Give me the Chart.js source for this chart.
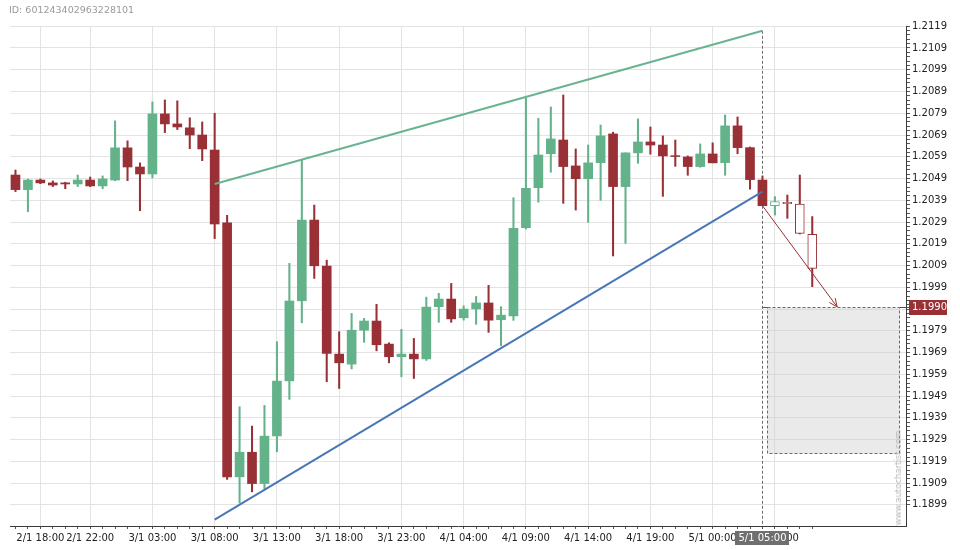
<!DOCTYPE html>
<html>
<head>
<meta charset="utf-8">
<script src="https://cdn.jsdelivr.net/npm/chart.js@4.4.1/dist/chart.umd.min.js"></script>
<style>
  html, body { margin: 0; padding: 0; background: #ffffff; }
  #wrap { position: relative; width: 960px; height: 550px; }
  #chartId { position: absolute; left: 9px; top: 4px; font: 9.5px "DejaVu Sans", sans-serif; color: #9a9a9a; }
  #mark { position: absolute; left: 898px; top: 478px; transform: translate(-50%, -50%) rotate(-90deg);
          font: 8.5px "DejaVu Sans", sans-serif; color: #b8b8b8; white-space: nowrap; }
</style>
</head>
<body>
<div id="wrap">
  <canvas id="c" width="960" height="550"></canvas>
  <div id="chartId">ID: 601243402963228101</div>
  <div id="mark">www.autochartist.com</div>
</div>
<script>
// ---- data (hourly candles, index 0 = 2/1 16:00) ----
const openV = [
1.20506, 1.20439, 1.20483, 1.20470, 1.20470, 1.20465, 1.20483, 1.20456, 1.20483, 1.20631,
1.20543, 1.20511, 1.20787, 1.20741, 1.20723, 1.20690, 1.20621, 1.20286, 1.19119, 1.19232,
1.19088, 1.19307, 1.19560, 1.19928, 1.20299, 1.20088, 1.19683, 1.19637, 1.19793, 1.19835,
1.19729, 1.19671, 1.19683, 1.19661, 1.19901, 1.19936, 1.19850, 1.19891, 1.19918, 1.19841,
1.19859, 1.20264, 1.20448, 1.20604, 1.20667, 1.20548, 1.20489, 1.20563, 1.20695, 1.20453,
1.20608, 1.20658, 1.20644, 1.20595, 1.20589, 1.20545, 1.20603, 1.20563, 1.20732, 1.20632,
1.20483, 1.20365, 1.20381, 1.20372, 1.20234];
const highV = [
1.20529, 1.20488, 1.20488, 1.20479, 1.20473, 1.20506, 1.20497, 1.20502, 1.20755, 1.20663,
1.20562, 1.20842, 1.20851, 1.20847, 1.20769, 1.20750, 1.20790, 1.20321, 1.19441, 1.19352,
1.19447, 1.19740, 1.20100, 1.20575, 1.20368, 1.20115, 1.19786, 1.19870, 1.19847, 1.19912,
1.19735, 1.19797, 1.19755, 1.19945, 1.19962, 1.20008, 1.19905, 1.19948, 1.19999, 1.19901,
1.20402, 1.20862, 1.20767, 1.20819, 1.20874, 1.20626, 1.20644, 1.20736, 1.20703, 1.20608,
1.20764, 1.20727, 1.20686, 1.20667, 1.20594, 1.20649, 1.20654, 1.20782, 1.20773, 1.20635,
1.20502, 1.20407, 1.20414, 1.20506, 1.20315];
const lowV = [
1.20430, 1.20338, 1.20466, 1.20453, 1.20443, 1.20453, 1.20453, 1.20443, 1.20480, 1.20480,
1.20342, 1.20493, 1.20701, 1.20715, 1.20627, 1.20572, 1.20214, 1.19107, 1.18999, 1.19050,
1.19065, 1.19234, 1.19475, 1.19827, 1.20031, 1.19556, 1.19525, 1.19615, 1.19737, 1.19698,
1.19643, 1.19579, 1.19571, 1.19654, 1.19829, 1.19829, 1.19839, 1.19820, 1.19783, 1.19721,
1.19838, 1.20258, 1.20381, 1.20519, 1.20376, 1.20345, 1.20289, 1.20390, 1.20134, 1.20192,
1.20560, 1.20602, 1.20408, 1.20546, 1.20505, 1.20542, 1.20562, 1.20505, 1.20604, 1.20441,
1.20365, 1.20322, 1.20307, 1.20235, 1.19993];
const closeV = [
1.20439, 1.20483, 1.20470, 1.20460, 1.20465, 1.20483, 1.20456, 1.20488, 1.20631, 1.20543,
1.20511, 1.20787, 1.20741, 1.20727, 1.20690, 1.20626, 1.20281, 1.19119, 1.19232, 1.19088,
1.19306, 1.19559, 1.19927, 1.20299, 1.20089, 1.19686, 1.19643, 1.19793, 1.19835, 1.19726,
1.19671, 1.19683, 1.19661, 1.19899, 1.19936, 1.19845, 1.19890, 1.19918, 1.19839, 1.19862,
1.20261, 1.20445, 1.20598, 1.20672, 1.20545, 1.20489, 1.20562, 1.20686, 1.20453, 1.20608,
1.20658, 1.20644, 1.20594, 1.20591, 1.20545, 1.20603, 1.20562, 1.20732, 1.20632, 1.20485,
1.20365, 1.20384, 1.20374, 1.20238, 1.20077];
const forecastFrom = 61;           // candles from this index on are projected (hollow)

// pattern lines [index, price]
const resistanceLine = [[16, 1.20465], [60, 1.21169]];
const supportLine    = [[16, 1.18922], [60, 1.20430]];
const forecastArrow  = [[60, 1.20365], [66, 1.19900]];
const targetLevel = 1.1990;
const targetLabel = '1.1990';
const zone = { start: 60.4, end: 71.0, top: 1.19900, bottom: 1.19228 };
const patternEndIndex = 60;
const patternEndLabel = '5/1 05:00';

// axis tick labels
const xTickIndex = [2, 6, 11, 16, 21, 26, 31, 36, 41, 46, 51, 56, 61];
const xTickText = ['2/1 18:00','2/1 22:00','3/1 03:00','3/1 08:00','3/1 13:00','3/1 18:00',
                   '3/1 23:00','4/1 04:00','4/1 09:00','4/1 14:00','4/1 19:00','5/1 00:00','5/1 05:00'];
const yTickValues = [1.1899,1.1909,1.1919,1.1929,1.1939,1.1949,1.1959,1.1969,1.1979,1.1989,1.1999,
                     1.2009,1.2019,1.2029,1.2039,1.2049,1.2059,1.2069,1.2079,1.2089,1.2099,1.2109,1.2119];
const yTickLabels = yTickValues.map(v => v.toFixed(4));

// ---- styles ----
const GREEN = '#63b28a', RED = '#993035', LINE_GREEN = '#6ab391', BLUE = '#4a77b4';
const GRID = '#e3e3e3', AXIS = '#3a3a3a', TEXT = '#222222';
const FONT = 'DejaVu Sans';

const n = openV.length;
const bodies = [], wicks = [], fill = [], edge = [], bw = [];
for (let i = 0; i < n; i++) {
  const up = closeV[i] >= openV[i];
  const col = up ? GREEN : RED;
  bodies.push({ x: i, y: [Math.min(openV[i], closeV[i]), Math.max(openV[i], closeV[i])] });
  wicks.push({ x: i, y: [lowV[i], highV[i]] });
  const hollow = i >= forecastFrom;
  fill.push(hollow ? '#ffffff' : col);
  edge.push(col);
  bw.push(hollow ? 1 : 0);
}
const wickCol = edge.slice();
const toPts = arr => arr.map(p => ({ x: p[0], y: p[1] }));

const isLabeledX = v => xTickIndex.indexOf(Math.round(v)) >= 0 && Math.abs(v - Math.round(v)) < 1e-6;
const yLabelFor = v => { for (let j = 0; j < yTickValues.length; j++) if (Math.abs(v - yTickValues[j]) < 1e-7) return j; return -1; };

const overlay = {
  id: 'overlay',
  beforeDatasetsDraw(chart) {
    const { ctx, scales: { x, y }, chartArea } = chart;
    const x0 = Math.round(x.getPixelForValue(zone.start)) + 0.5;
    const x1 = Math.round(x.getPixelForValue(zone.end)) + 0.5;
    const yt = Math.round(y.getPixelForValue(zone.top)) + 0.5;
    const yb = Math.round(y.getPixelForValue(zone.bottom)) + 0.5;
    ctx.save();
    ctx.fillStyle = 'rgba(205,205,205,0.42)';
    ctx.fillRect(x0, yt, x1 - x0, yb - yt);
    ctx.setLineDash([3, 2]);
    ctx.strokeStyle = '#6a6a6a';
    ctx.lineWidth = 1;
    ctx.strokeRect(x0, yt, x1 - x0, yb - yt);
    // vertical dashed line at pattern end
    const xe = Math.round(x.getPixelForValue(patternEndIndex)) + 0.5;
    const ys = y.getPixelForValue(resistanceLine[1][1]);
    ctx.beginPath(); ctx.moveTo(xe, ys); ctx.lineTo(xe, chartArea.bottom); ctx.stroke();
    ctx.setLineDash([]);
    // target level line (red) outside the box
    ctx.strokeStyle = RED;
    ctx.beginPath();
    ctx.moveTo(xe, yt); ctx.lineTo(x0, yt);
    ctx.moveTo(x1, yt); ctx.lineTo(chartArea.right + 3, yt);
    ctx.stroke();
    ctx.restore();
  },
  afterDraw(chart) {
    const { ctx, scales: { x, y }, chartArea } = chart;
    ctx.save();
    // arrow head
    const ax = x.getPixelForValue(forecastArrow[0][0]), ay = y.getPixelForValue(forecastArrow[0][1]);
    const bx = x.getPixelForValue(forecastArrow[1][0]), by = y.getPixelForValue(forecastArrow[1][1]);
    const ang = Math.atan2(by - ay, bx - ax), L = 9, spread = 0.42;
    ctx.strokeStyle = RED; ctx.lineWidth = 1;
    ctx.beginPath();
    ctx.moveTo(bx - L * Math.cos(ang - spread), by - L * Math.sin(ang - spread));
    ctx.lineTo(bx, by);
    ctx.lineTo(bx - L * Math.cos(ang + spread), by - L * Math.sin(ang + spread));
    ctx.stroke();
    // price label
    const py = Math.round(y.getPixelForValue(targetLevel));
    ctx.fillStyle = RED;
    ctx.fillRect(chartArea.right + 3, py - 7, 38, 15);
    ctx.fillStyle = '#ffffff';
    ctx.font = '10px "' + FONT + '"';
    ctx.textBaseline = 'middle'; ctx.textAlign = 'left';
    ctx.fillText(targetLabel, chartArea.right + 6, py + 0.5);
    // time label
    const tx = x.getPixelForValue(patternEndIndex);
    ctx.fillStyle = '#6f6f6f';
    ctx.fillRect(Math.round(tx) - 27, chartArea.bottom + 5, 54, 14);
    ctx.fillStyle = '#ffffff';
    ctx.textAlign = 'center';
    ctx.fillText(patternEndLabel, tx, chartArea.bottom + 12.5);
    ctx.restore();
  }
};

new Chart(document.getElementById('c'), {
  type: 'bar',
  data: {
    datasets: [
      { type: 'line', data: toPts(resistanceLine), borderColor: LINE_GREEN, borderWidth: 2, pointRadius: 0, order: -3 },
      { type: 'line', data: toPts(supportLine), borderColor: BLUE, borderWidth: 2, pointRadius: 0, order: -2 },
      { type: 'line', data: toPts(forecastArrow), borderColor: RED, borderWidth: 1, pointRadius: 0, order: -1 },
      { data: bodies, backgroundColor: fill, borderColor: edge, borderWidth: bw, borderSkipped: false,
        barThickness: 9, grouped: false, order: 0 },
      { data: wicks, backgroundColor: wickCol, borderWidth: 0, barThickness: 1.4, grouped: false, order: 1 }
    ]
  },
  options: {
    responsive: false,
    animation: false,
    devicePixelRatio: 1,
    layout: { padding: { left: 10, top: 26, right: 0, bottom: 0 } },
    plugins: { legend: { display: false }, tooltip: { enabled: false } },
    scales: {
      x: {
        type: 'linear', min: -0.44, max: 71.53, offset: false,
        afterBuildTicks: s => { const t = []; for (let i = 0; i < n; i++) t.push({ value: i }); s.ticks = t; },
        afterFit: s => { s.height = 24; },
        grid: { offset: false, color: c => (c.tick && isLabeledX(c.tick.value)) ? GRID : 'rgba(0,0,0,0)',
                tickColor: '#555', tickLength: 3, lineWidth: 1 },
        border: { display: true, color: AXIS, width: 1 },
        ticks: { autoSkip: false, maxRotation: 0, minRotation: 0, padding: 3, color: TEXT,
                 font: { family: FONT, size: 10 },
                 callback: v => { const k = xTickIndex.indexOf(Math.round(v)); return (k >= 0 && Math.abs(v - Math.round(v)) < 1e-6) ? xTickText[k] : ''; } }
      },
      y: {
        type: 'linear', position: 'right', min: 1.18893, max: 1.21191, beginAtZero: false,
        afterBuildTicks: s => {
          const t = [];
          for (let k = 0; k <= 110; k++) t.push({ value: Math.round((yTickValues[0] + k * 0.0002) * 1e5) / 1e5 });
          s.ticks = t;
        },
        afterFit: s => { s.width = 54; },
        grid: { color: c => (c.tick && yLabelFor(c.tick.value) >= 0) ? GRID : 'rgba(0,0,0,0)',
                tickColor: '#555', tickLength: 4, lineWidth: 1 },
        border: { display: true, color: AXIS, width: 1 },
        ticks: { autoSkip: false, padding: 2, color: TEXT, font: { family: FONT, size: 10 },
                 callback: v => { const j = yLabelFor(v); return j >= 0 ? yTickLabels[j] : ''; } }
      }
    }
  },
  plugins: [overlay]
});
</script>
</body>
</html>
